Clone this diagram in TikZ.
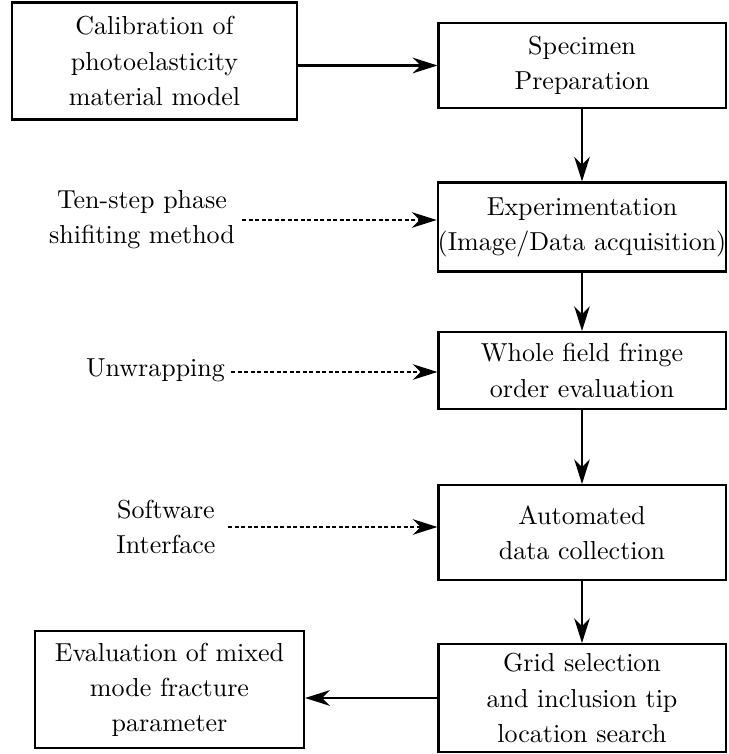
\documentclass[tikz,border=0pt]{standalone}
\usetikzlibrary{arrows.meta}
\begin{document}
\begin{tikzpicture}[x=0.3846pt,y=-0.3846pt,
  box/.style={draw,line width=0.8pt,align=center,inner sep=0pt,font=\fontsize{10}{13.5}\selectfont},
  lab/.style={align=center,inner sep=0pt,font=\fontsize{10}{13.5}\selectfont},
  arr/.style={line width=0.8pt,-{Stealth[length=9.5pt,width=6pt,inset=3pt]}},
  darr/.style={line width=0.6pt,dash pattern=on 1.6pt off 0.9pt,-{Stealth[length=9.5pt,width=6pt,inset=3pt]}}]
\useasboundingbox (0,0) rectangle (728,754);
\node[box,minimum width=109.6pt,minimum height=45pt] (A) at (154.5,61) {Calibration of\\photoelasticity\\material model};
\node[box,minimum width=110.4pt,minimum height=32.7pt] (B) at (582,65.5) {Specimen\\Preparation};
\node[box,minimum width=110.4pt,minimum height=34.2pt] (C) at (582,227) {Experimentation\\(Image/Data acquisition)};
\node[box,minimum width=110.4pt,minimum height=29.6pt] (D) at (582,370.5) {Whole field fringe\\order evaluation};
\node[box,minimum width=110.4pt,minimum height=36.5pt] (E) at (582,532.5) {Automated\\data collection};
\node[box,minimum width=110.4pt,minimum height=41.5pt] (F) at (582,698) {Grid selection\\and inclusion tip\\location search};
\node[box,minimum width=103.5pt,minimum height=45pt] (G) at (169.5,689.5) {Evaluation of mixed\\mode fracture\\parameter};
\node[lab] (L1) at (142,220) {Ten-step phase\\shifiting method};
\node[lab] (L2) at (155.5,370) {Unwrapping};
\node[lab] (L3) at (166,527) {Software\\Interface};
\coordinate (s1) at (242,220);
\coordinate (s2) at (231,372);
\coordinate (s3) at (228,527);
\draw[arr] (A.east |- B.west) -- (B.west);
\draw[arr] (B) -- (C);
\draw[arr] (C) -- (D);
\draw[arr] (D) -- (E);
\draw[arr] (E) -- (F);
\draw[arr] (F.west) -- (F.west -| G.east);
\draw[darr] (s1) -- (s1 -| C.west);
\draw[darr] (s2) -- (s2 -| D.west);
\draw[darr] (s3) -- (s3 -| E.west);
\end{tikzpicture}
\end{document}
